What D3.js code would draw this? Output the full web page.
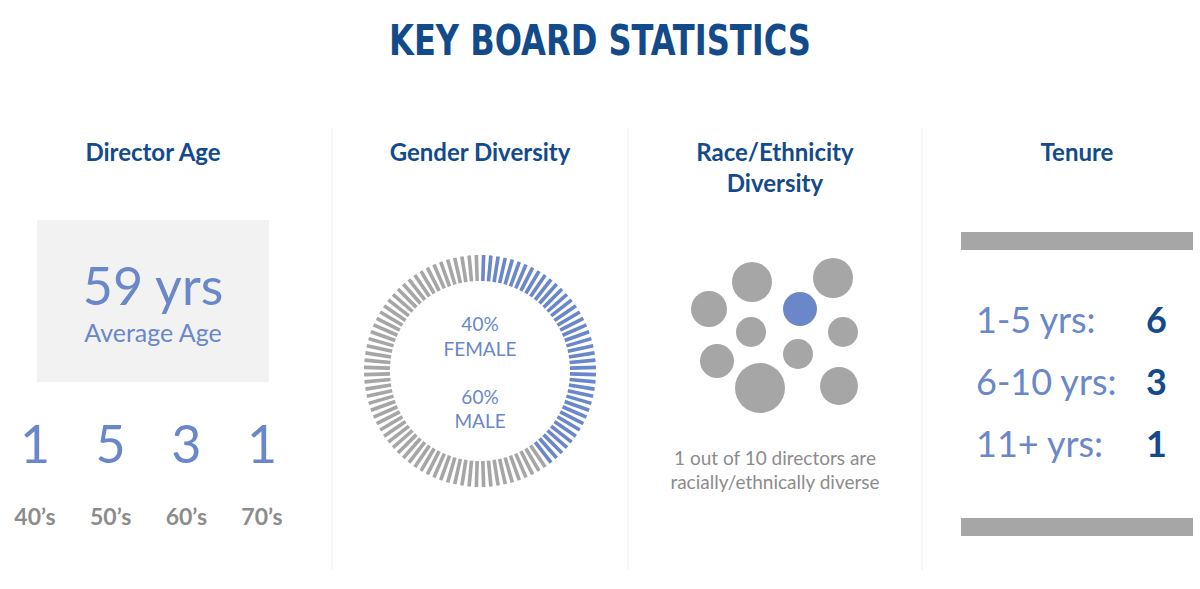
<!DOCTYPE html><html><head><meta charset="utf-8"><script src="https://cdn.jsdelivr.net/npm/d3@7"></script>
<style>body{margin:0;background:#fff}</style></head><body><svg id="c" width="1200" height="589"></svg>
<script>
const ageCounts=[1,5,3,1];
const ageLabels=["40’s","50’s","60’s","70’s"];
const avgAge=59;
const genderPct=[40,60];
const genderLabels=["FEMALE","MALE"];
const raceCircles=[[709,309,18,0],[752,282,20,0],[833,278,20,0],[800,309,17,1],[751,332,15,0],[843,332,15,0],[717,361,17,0],[798,354,15,0],[760,388,25,0],[839,386,19,0]];
const tenureLabels=["1-5 yrs:","6-10 yrs:","11+ yrs:"];
const tenureCounts=[6,3,1];
const NAVY="#134a8a",BLUE="#6987c9",GRAY="#a6a6a6",DGRAY="#8c8c8c";
const F="Roboto Condensed, 'Liberation Sans Narrow', 'DejaVu Sans Condensed', sans-serif";
const svg=d3.select("#c");
svg.append("text").attr("x",600).attr("y",55).attr("text-anchor","middle").attr("font-family","'DejaVu Sans Condensed',sans-serif").attr("font-weight","bold").attr("font-size",42).attr("fill",NAVY).attr("transform","translate(600,0) scale(0.85,1) translate(-600,0)").text("KEY BOARD STATISTICS");
[332,628,922].forEach(x=>svg.append("line").attr("x1",x).attr("x2",x).attr("y1",128).attr("y2",570).attr("stroke","#eeeeee"));
function head(x,lines){lines.forEach((t,i)=>svg.append("text").attr("x",x).attr("y",161+i*31).attr("text-anchor","middle").attr("font-family","Lato, sans-serif").attr("font-weight","bold").attr("font-size",24).attr("fill",NAVY).text(t));}
head(153,["Director Age"]);head(480,["Gender Diversity"]);head(775,["Race/Ethnicity","Diversity"]);head(1077,["Tenure"]);
// Age
svg.append("rect").attr("x",37).attr("y",220).attr("width",232).attr("height",162).attr("fill","#f2f2f2");
svg.append("text").attr("x",153).attr("y",305).attr("text-anchor","middle").attr("font-family","Lato, sans-serif").attr("font-size",52).attr("fill",BLUE).text(avgAge+" yrs");
svg.append("text").attr("x",153).attr("y",342).attr("text-anchor","middle").attr("font-family","Lato, sans-serif").attr("font-size",25).attr("fill",BLUE).text("Average Age");
const xa=d3.scalePoint().domain(ageLabels).range([35,262]);
ageLabels.forEach((l,i)=>{
 svg.append("text").attr("x",xa(l)).attr("y",463).attr("text-anchor","middle").attr("font-family","Lato, sans-serif").attr("font-size",52).attr("fill",BLUE).text(ageCounts[i]);
 svg.append("text").attr("x",xa(l)).attr("y",525).attr("text-anchor","middle").attr("font-family","Lato, sans-serif").attr("font-weight","bold").attr("font-size",23).attr("fill",DGRAY).text(l);
});
// Gender donut ticks
const N=100,cx=480,cy=371;
const ang=d3.scaleLinear().domain([0,N]).range([0,2*Math.PI]);
const g=svg.append("g").attr("transform",`translate(${cx},${cy})`);
d3.range(N).forEach(i=>{const a=ang(i+0.5);const s=Math.sin(a),c=-Math.cos(a);
 g.append("line").attr("x1",90*s).attr("y1",90*c).attr("x2",116*s).attr("y2",116*c).attr("stroke",i<genderPct[0]*N/100?BLUE:GRAY).attr("stroke-width",3.6);});
[[genderPct[0]+"%",331],[genderLabels[0],356],[genderPct[1]+"%",404],[genderLabels[1],428]].forEach(([t,y])=>svg.append("text").attr("x",cx).attr("y",y).attr("text-anchor","middle").attr("font-family","Lato, sans-serif").attr("font-size",19).attr("fill",BLUE).text(t));
// Race
raceCircles.forEach(([x,y,r,b])=>svg.append("circle").attr("cx",x).attr("cy",y).attr("r",r).attr("fill",b?BLUE:GRAY));
["1 out of 10 directors are","racially/ethnically diverse"].forEach((t,i)=>svg.append("text").attr("x",775).attr("y",465+i*24).attr("text-anchor","middle").attr("font-family","Lato, sans-serif").attr("font-size",19).attr("fill",DGRAY).text(t));
// Tenure
svg.append("rect").attr("x",961).attr("y",232).attr("width",232).attr("height",18).attr("fill",GRAY);
svg.append("rect").attr("x",961).attr("y",518).attr("width",232).attr("height",18).attr("fill",GRAY);
const yt=d3.scalePoint().domain(tenureLabels).range([333,457]);
tenureLabels.forEach((l,i)=>{
 svg.append("text").attr("x",976).attr("y",yt(l)).attr("font-family","Lato, sans-serif").attr("font-size",36).attr("fill",BLUE).text(l);
 svg.append("text").attr("x",1167).attr("y",yt(l)).attr("text-anchor","end").attr("font-family","Lato, sans-serif").attr("font-weight","bold").attr("font-size",36).attr("fill",NAVY).text(tenureCounts[i]);
});
</script></body></html>
